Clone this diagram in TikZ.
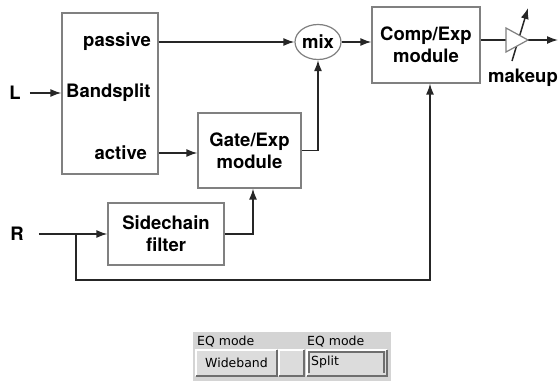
\documentclass[tikz,border=0pt]{standalone}
\usepackage{fontspec}
\setmainfont{TeX Gyre Heros}
\newfontfamily\guifont{DejaVu Sans}
\usetikzlibrary{arrows.meta,shapes.geometric}
\definecolor{boxgrey}{HTML}{808080}
\definecolor{panelgrey}{HTML}{D4D4D4}
\definecolor{btngrey}{HTML}{DCDCDC}
\definecolor{shadegrey}{HTML}{6E6E6E}

\begin{document}
\begin{tikzpicture}[x=1pt,y=-1pt]
  \useasboundingbox (0,0) rectangle (559,381);
  % Define block, label and wire styles
  \tikzset{block/.style={draw=boxgrey, line width=1.2pt, fill=white, inner sep=0pt}}
  \tikzset{lbl/.style={font=\fontsize{18.5}{22}\selectfont\bfseries, inner sep=0pt, align=center}}
  \tikzset{wire/.style={line width=1.5pt, black!85}}
  \tikzset{sig/.style={wire, -{Latex[length=11pt,width=8pt]}}}
  \tikzset{btn/.style={fill=btngrey, minimum height=26pt, inner sep=0pt, font=\guifont\fontsize{12.5}{14}\selectfont}}
  % Draw the blocks
  \node[block, minimum width=96pt, minimum height=161pt] (band) at (110,93.5) {};
  \node[lbl, anchor=east] (passive) at (151,42) {passive};
  \node[lbl, anchor=west] (bandtxt) at (66,93) {Bandsplit};
  \node[lbl, anchor=east] (active) at (147,153) {active};
  \node[block, lbl, minimum width=103pt, minimum height=75pt] (gate) at (249.5,150.5) {Gate/Exp\\module};
  \node[block, lbl, minimum width=108pt, minimum height=76pt] (comp) at (426,45) {Comp/Exp\\module};
  \node[block, lbl, minimum width=116pt, minimum height=62pt] (side) at (166,234) {Sidechain\\filter};
  \node[block, lbl, ellipse, minimum width=46pt, minimum height=35pt] (mix) at (318,42) {mix};
  % Inputs
  \node[lbl] (L) at (15,93) {L};
  \node[lbl] (R) at (17,234) {R};
  % Draw the connections
  \draw[sig] ([xshift=9pt]L.east) -- (band.west |- L);
  \draw[sig] (band.east |- passive) -- (mix.west);
  \draw[sig] (band.east |- active) -- (gate.west |- active);
  \draw[sig] (gate.east) -| (mix.south);
  \draw[sig] (mix.east) -- (comp.west |- mix.east);
  \draw[sig] ([xshift=15pt]R.east) -- (side.west);
  \draw[sig] (side.east) -| ([xshift=3.5pt]gate.south);
  \coordinate (split) at (76,234);
  \coordinate (loop) at (76,280);
  \draw[sig] (split) -- (loop) -| ([xshift=4pt]comp.south);
  % Makeup gain
  \coordinate (ampin) at (506,40);
  \coordinate (amptip) at (528,40);
  \coordinate (out) at (558,40);
  \coordinate (knoblo) at (512,61);
  \coordinate (knobhi) at (528,8);
  \draw[wire] (comp.east |- ampin) -- (ampin);
  \draw[sig] (amptip) -- (out);
  \draw[sig] (knoblo) -- (knobhi);
  \draw[draw=boxgrey, line width=1.2pt, fill=white] (506,28) -- (amptip) -- (506,52) -- cycle;
  \node[lbl] (makeup) at (523,78) {makeup};
  % EQ mode panel
  \fill[panelgrey] (193,332) rectangle (391,381);
  \node[btn, fill=none, anchor=west] (eqa) at (197,342) {EQ mode};
  \node[btn, fill=none, anchor=west] (eqb) at (307,342) {EQ mode};
  \node[btn, minimum width=81pt] (wide) at (236.5,363) {Wideband};
  \node[btn, minimum width=25pt] (blank) at (291.5,363) {};
  \node[btn, minimum width=80pt] (splitbtn) at (347,363) {};
  \foreach \b in {wide,blank,splitbtn}{
    \draw[white, line width=1.5pt] (\b.south west) |- (\b.north east);
    \draw[shadegrey, line width=1.5pt] (\b.south west) -| (\b.north east);
  }
  \draw[shadegrey, line width=1.2pt, fill=btngrey] (309,373) |- (384,352) -- (384,373);
  \node[btn, fill=none, anchor=west] (splittxt) at (311,362.5) {Split};
\end{tikzpicture}
\end{document}
